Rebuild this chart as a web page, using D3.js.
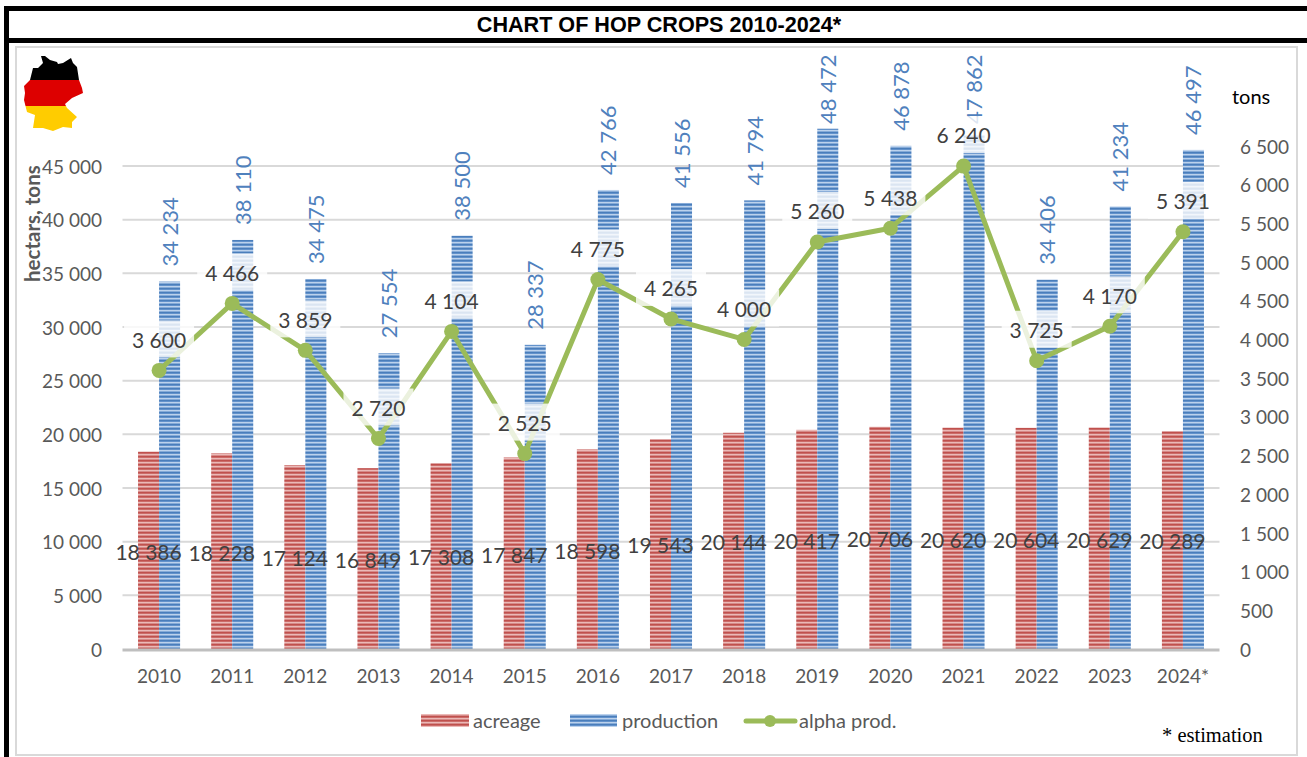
<!DOCTYPE html>
<html>
<head>
<meta charset="utf-8">
<script src="https://cdn.jsdelivr.net/npm/d3@7"></script>
<style>
  html, body { margin: 0; padding: 0; background: #fff; }
  svg { display: block; }
  text { font-family: Lato, sans-serif; }
  .axis text { font-size: 19px; fill: #595959; }
  .axis path { display: none; }
</style>
</head>
<body>
<svg id="chart" width="1307" height="757"></svg>
<script>
var years = ["2010","2011","2012","2013","2014","2015","2016","2017","2018","2019","2020","2021","2022","2023","2024*"];
var acreage = [18386,18228,17124,16849,17308,17847,18598,19543,20144,20417,20706,20620,20604,20629,20289];
var production = [34234,38110,34475,27554,38500,28337,42766,41556,41794,48472,46878,47862,34406,41234,46497];
var alphaProd = [3600,4466,3859,2720,4104,2525,4775,4265,4000,5260,5438,6240,3725,4170,5391];
var leftTicks = [0,5000,10000,15000,20000,25000,30000,35000,40000,45000];
var rightTicks = [0,500,1000,1500,2000,2500,3000,3500,4000,4500,5000,5500,6000,6500];
var seriesNames = ["acreage","production","alpha prod."];

var GREEN = "#9bbb59";

var svg = d3.select("#chart");
var fmt = d3.formatLocale({decimal: ".", thousands: " ", grouping: [3], currency: ["", ""]}).format(",");

// striped fills, four soft rows per repeat
var defs = svg.append("defs");
function stripes(id, rows) {
  var p = defs.append("pattern").attr("id", id)
    .attr("patternUnits", "userSpaceOnUse").attr("width", 4).attr("height", 4);
  rows.forEach(function(c, i) {
    p.append("rect").attr("y", i).attr("width", 4).attr("height", 1).attr("fill", c);
  });
}
stripes("redStripes", ["#c0504d", "#cb6c69", "#ebb9b7", "#d68b89"]);
stripes("blueStripes", ["#4a7ebb", "#6392cb", "#bcd2ec", "#86abd8"]);

// frame
svg.append("rect").attr("x", 16).attr("y", 47).attr("width", 1281).attr("height", 708)
  .attr("fill", "#fff").attr("stroke", "#d9d9d9").attr("stroke-width", 2);
svg.append("rect").attr("x", 4).attr("y", 6).attr("width", 1303).attr("height", 5).attr("fill", "#000");
svg.append("rect").attr("x", 4).attr("y", 38).attr("width", 1303).attr("height", 5).attr("fill", "#000");
svg.append("rect").attr("x", 4).attr("y", 6).attr("width", 5).attr("height", 751).attr("fill", "#000");

svg.append("text").attr("x", 659).attr("y", 32).attr("text-anchor", "middle")
  .style("font-family", "'Liberation Sans', Arial, sans-serif")
  .style("font-weight", 700).style("font-size", "21.6px").attr("fill", "#000")
  .text("CHART OF HOP CROPS 2010-2024*");

// germany flag map
var map = [[41,56],[45,56],[50,60],[57,62],[58,64],[63,63],[71,58],[73,63],[77,67],[79,80],[82,88],[83,93],
  [72,98],[65,104],[67,108],[77,117],[72,122],[72,128],[63,127],[53,131],[43,128],[33,128],[35,115],[27,112],
  [24,100],[25,93],[24,86],[30,80],[33,68],[38,68],[43,63]];
defs.append("clipPath").attr("id", "mapClip").append("polygon").attr("points", map.join(" "));
var flag = svg.append("g").attr("clip-path", "url(#mapClip)");
flag.append("rect").attr("x", 20).attr("y", 50).attr("width", 70).attr("height", 30).attr("fill", "#000");
flag.append("rect").attr("x", 20).attr("y", 80).attr("width", 70).attr("height", 26).attr("fill", "#dd0000");
flag.append("rect").attr("x", 20).attr("y", 106).attr("width", 70).attr("height", 30).attr("fill", "#ffcc00");

// scales
var x0 = d3.scaleBand().domain(years).range([122.5, 1219.5]).paddingInner(0.425).paddingOuter(0.2125);
var x1 = d3.scaleBand().domain(["acreage","production"]).range([0, x0.bandwidth()]);
var yL = d3.scaleLinear().domain([0, 45000]).range([649, 166]);
var yR = d3.scaleLinear().domain([0, 6500]).range([649, 146]);
function cx(d) { return x0(d) + x0.bandwidth() / 2; }

// grid
svg.append("g").selectAll("line").data(leftTicks.slice(1)).enter().append("line")
  .attr("x1", 122.5).attr("x2", 1219.5)
  .attr("y1", function(d) { return yL(d); }).attr("y2", function(d) { return yL(d); })
  .attr("stroke", "#d9d9d9").attr("stroke-width", 2);

// axes
svg.append("g").attr("class", "axis").attr("transform", "translate(110,1)")
  .call(d3.axisLeft(yL).tickValues(leftTicks).tickSize(0).tickPadding(8).tickFormat(fmt));
svg.append("g").attr("class", "axis").attr("transform", "translate(1232,1)")
  .call(d3.axisRight(yR).tickValues(rightTicks).tickSize(0).tickPadding(8).tickFormat(fmt));
svg.append("g").attr("class", "axis").attr("transform", "translate(0,649)")
  .call(d3.axisBottom(x0).tickSize(0).tickPadding(21));

// bars
svg.append("g").selectAll("rect").data(acreage).enter().append("rect")
  .attr("x", function(d, i) { return x0(years[i]) + x1("acreage"); })
  .attr("y", function(d) { return yL(d); })
  .attr("width", x1.bandwidth())
  .attr("height", function(d) { return yL(0) - yL(d); })
  .attr("fill", "url(#redStripes)");
svg.append("g").selectAll("rect").data(production).enter().append("rect")
  .attr("x", function(d, i) { return x0(years[i]) + x1("production"); })
  .attr("y", function(d) { return yL(d); })
  .attr("width", x1.bandwidth())
  .attr("height", function(d) { return yL(0) - yL(d); })
  .attr("fill", "url(#blueStripes)");

// baseline
svg.append("line").attr("x1", 122.5).attr("x2", 1219.5).attr("y1", 650).attr("y2", 650)
  .attr("stroke", "#bfbfbf").attr("stroke-width", 3);

// acreage labels, centred in the red bars
svg.append("g").selectAll("text").data(acreage).enter().append("text")
  .attr("x", function(d, i) { return x0(years[i]) + x1("acreage") + x1.bandwidth() / 2; })
  .attr("y", function(d) { return (yL(d) + yL(0)) / 2 + 2; })
  .attr("dy", "0.35em").attr("text-anchor", "middle")
  .attr("fill", "#404040").style("font-size", "21px")
  .text(fmt);

// production labels, rotated above the bars, pushed down near the top of the plot
svg.append("g").selectAll("text").data(production).enter().append("text")
  .attr("transform", function(d, i) {
    var x = x0(years[i]) + x1("production") + x1.bandwidth() / 2 + 8;
    var y = Math.max(yL(d) - 15, 124);
    return "translate(" + x + "," + y + ") rotate(-90)";
  })
  .attr("fill", "#4f81bd").style("font-size", "22px")
  .text(fmt);

// alpha line
var line = d3.line()
  .x(function(d, i) { return cx(years[i]); })
  .y(function(d) { return yR(d); });
svg.append("path").datum(alphaProd).attr("d", line)
  .attr("fill", "none").attr("stroke", GREEN).attr("stroke-width", 5).attr("stroke-linejoin", "round");
svg.append("g").selectAll("circle").data(alphaProd).enter().append("circle")
  .attr("cx", function(d, i) { return cx(years[i]); })
  .attr("cy", function(d) { return yR(d); })
  .attr("r", 7.5).attr("fill", GREEN);

// alpha labels with translucent white box
var alphaG = svg.append("g").selectAll("g").data(alphaProd).enter().append("g")
  .attr("transform", function(d, i) { return "translate(" + cx(years[i]) + "," + (yR(d) - 30) + ")"; });
alphaG.append("rect")
  .attr("x", -35).attr("y", -20).attr("width", 70).attr("height", 37)
  .attr("fill", "#fff").attr("fill-opacity", 0.8);
alphaG.append("text")
  .attr("dy", "0.35em").attr("text-anchor", "middle")
  .attr("fill", "#404040").style("font-size", "21px")
  .text(fmt);

// axis titles and note
svg.append("text").attr("transform", "translate(40,282) rotate(-90)")
  .attr("fill", "#595959").style("font-size", "20.5px").style("font-weight", 700)
  .text("hectars, tons");
svg.append("text").attr("x", 1232).attr("y", 104).attr("fill", "#000").style("font-size", "20px").text("tons");
svg.append("text").attr("x", 1162).attr("y", 742).attr("fill", "#000")
  .style("font-family", "'Liberation Serif', serif").style("font-size", "20.5px")
  .text("* estimation");

// legend
var legend = svg.append("g");
legend.append("rect").attr("x", 421).attr("y", 714).attr("width", 48).attr("height", 13).attr("fill", "url(#redStripes)");
legend.append("rect").attr("x", 570).attr("y", 714).attr("width", 47).attr("height", 13).attr("fill", "url(#blueStripes)");
legend.append("line").attr("x1", 746).attr("x2", 795).attr("y1", 721).attr("y2", 721)
  .attr("stroke", GREEN).attr("stroke-width", 5).attr("stroke-linecap", "round");
legend.append("circle").attr("cx", 770).attr("cy", 721).attr("r", 6).attr("fill", GREEN);
legend.selectAll("text").data(seriesNames).enter().append("text")
  .attr("x", function(d, i) { return [473, 622, 799][i]; })
  .attr("y", 721).attr("dy", "0.35em")
  .attr("fill", "#595959").style("font-size", "20px")
  .text(function(d) { return d; });
</script>
</body>
</html>
